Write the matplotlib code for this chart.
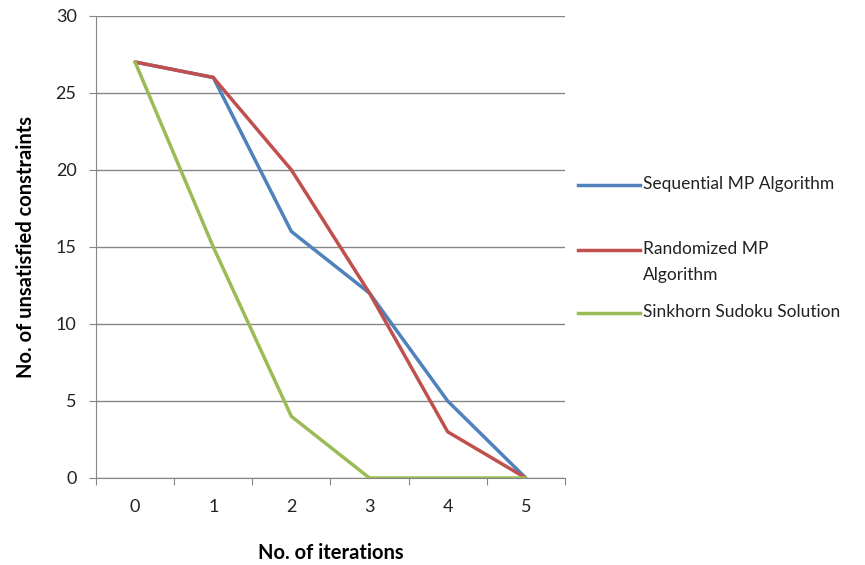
import numpy as np
import matplotlib
matplotlib.use("Agg")
import matplotlib.pyplot as plt
from matplotlib.lines import Line2D

plt.rcParams['font.family'] = ['Lato', 'DejaVu Sans']

iterations = [0, 1, 2, 3, 4, 5]
sequential = [27, 26, 16, 12, 5, 0]
randomized = [27, 26, 20, 12, 3, 0]
sinkhorn = [27, 15, 4, 0, 0, 0]

names = ["Sequential MP Algorithm", "Randomized MP\nAlgorithm", "Sinkhorn Sudoku Solution"]
colors = ["#4F81BD", "#C0504D", "#9BBB59"]
series = [sequential, randomized, sinkhorn]

fig = plt.figure(figsize=(8.65, 5.65), dpi=100)
ax = fig.add_axes([0.111, 0.154, 0.542, 0.818])

x = np.arange(len(iterations))
for vals, c in zip(series, colors):
    ax.plot(x, vals, color=c, lw=2.5, solid_capstyle='round', solid_joinstyle='round', zorder=3)

grey = "#868686"
ax.set_xlim(-0.5, len(iterations) - 0.5)
ax.set_ylim(0, 30)
ax.set_yticks(range(0, 31, 5))
ax.yaxis.grid(True, color=grey, lw=1)
ax.set_axisbelow(True)

ax.set_xticks(np.arange(-0.5, len(iterations), 1))
ax.set_xticklabels([])
ax.set_xticks(x, minor=True)
ax.set_xticklabels([str(i) for i in iterations], minor=True)
ax.tick_params(axis='x', which='major', length=5, color=grey, direction='out')
ax.tick_params(axis='x', which='minor', length=0, pad=15, labelsize=13, labelcolor='#222222')
ax.tick_params(axis='y', length=5, color=grey, direction='out', pad=9, labelsize=13, labelcolor='#222222')

for s in ['top', 'right']:
    ax.spines[s].set_visible(False)
for s in ['left', 'bottom']:
    ax.spines[s].set_color(grey)

ax.set_xlabel("No. of iterations", fontsize=14.5, fontweight='bold', labelpad=20)
ax.set_ylabel("No. of unsatisfied constraints", fontsize=14.5, fontweight='bold', labelpad=14)

# legend drawn by hand, handle aligned to first text line
leg_y = [185, 250, 313]
for name, c, yy in zip(names, colors, leg_y):
    fy = 1 - yy / 565
    fig.add_artist(Line2D([578 / 865, 640 / 865], [fy, fy], color=c, lw=2.5))
    fig.text(643 / 865, fy + 0.016, name, fontsize=12.5, color='#222222', va='top',
             linespacing=1.75)

fig.savefig("out.png", dpi=100)
